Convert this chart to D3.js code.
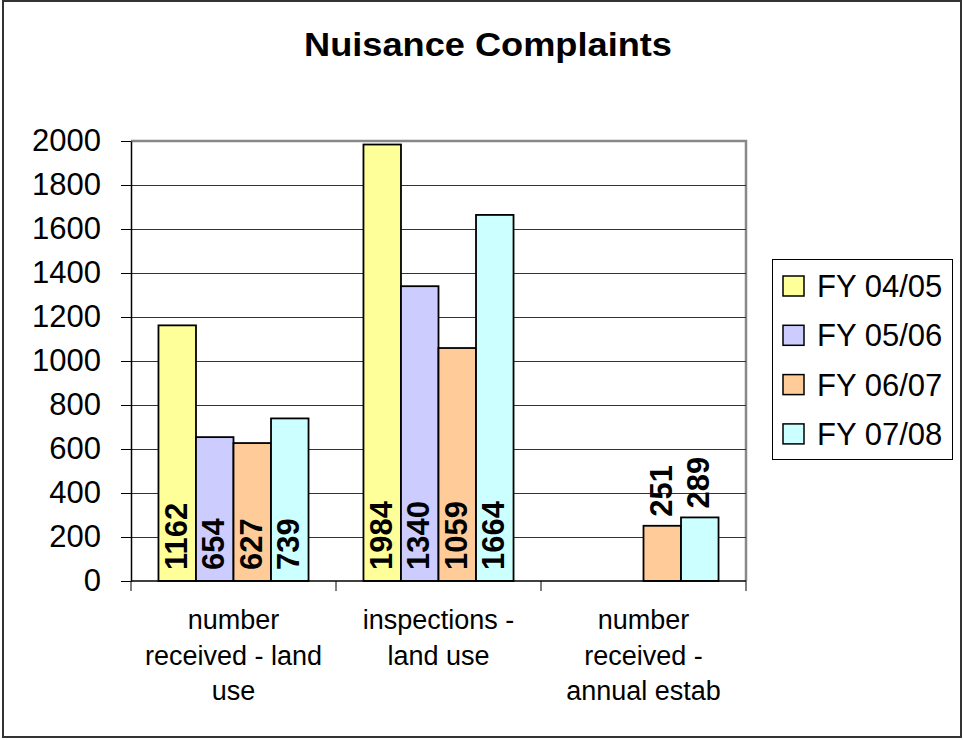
<!DOCTYPE html>
<html>
<head>
<meta charset="utf-8">
<script src="https://cdn.jsdelivr.net/npm/d3@7"></script>
<style>
  body { margin: 0; background: #fff; }
  text { font-family: Arial, "Liberation Sans", sans-serif; fill: #000; }
</style>
</head>
<body>
<script>
// chart data
var categories = ["number received - land use", "inspections - land use", "number received - annual estab"];
var categoryLines = [["number", "received - land", "use"], ["inspections -", "land use"], ["number", "received -", "annual estab"]];
var seriesNames = ["FY 04/05", "FY 05/06", "FY 06/07", "FY 07/08"];
var fy0405 = [1162, 1984, null];
var fy0506 = [654, 1340, null];
var fy0607 = [627, 1059, 251];
var fy0708 = [739, 1664, 289];
var yTicks = [0, 200, 400, 600, 800, 1000, 1200, 1400, 1600, 1800, 2000];
var colors = ["#FFFF99", "#CCCCFF", "#FFCC99", "#CCFFFF"];

var seriesValues = [fy0405, fy0506, fy0607, fy0708];

var W = 963, H = 740;
var plot = { left: 131, right: 746, top: 141, bottom: 581 };

var svg = d3.select("body").append("svg")
    .attr("width", W)
    .attr("height", H);

// outer border
svg.append("rect")
    .attr("x", 3).attr("y", 1)
    .attr("width", 958).attr("height", 736)
    .attr("fill", "#fff")
    .attr("stroke", "#333")
    .attr("stroke-width", 2);

// title
svg.append("text")
    .attr("x", 488)
    .attr("y", 56)
    .attr("text-anchor", "middle")
    .attr("font-size", 33)
    .attr("font-weight", "bold")
    .attr("textLength", 368)
    .attr("lengthAdjust", "spacingAndGlyphs")
    .text("Nuisance Complaints");

// scales
var yScale = d3.scaleLinear()
    .domain([0, 2000])
    .range([plot.bottom, plot.top]);

var xScale = d3.scaleBand()
    .domain(categories)
    .range([plot.left, plot.right])
    .paddingInner(0.268)
    .paddingOuter(0.134);

var xSub = d3.scaleBand()
    .domain(seriesNames)
    .range([0, xScale.bandwidth()]);

// plot area border (top & right in gray)
svg.append("path")
    .attr("d", "M" + plot.left + "," + plot.top + "H" + plot.right + "V" + plot.bottom)
    .attr("fill", "none")
    .attr("stroke", "#888")
    .attr("stroke-width", 2.5);

// gridlines
svg.append("g")
    .selectAll("line")
    .data(yTicks.filter(function (d) { return d > 0 && d < 2000; }))
    .enter().append("line")
    .attr("x1", plot.left)
    .attr("x2", plot.right)
    .attr("y1", function (d) { return Math.round(yScale(d)) + 0.5; })
    .attr("y2", function (d) { return Math.round(yScale(d)) + 0.5; })
    .attr("stroke", "#333")
    .attr("stroke-width", 1);

// bars
var rows = [];
categories.forEach(function (c, i) {
    seriesNames.forEach(function (s, j) {
        if (seriesValues[j][i] != null) rows.push({ cat: c, series: s, idx: j, value: seriesValues[j][i] });
    });
});

svg.append("g")
    .selectAll("rect")
    .data(rows)
    .enter().append("rect")
    .attr("x", function (d) { return xScale(d.cat) + xSub(d.series); })
    .attr("y", function (d) { return yScale(d.value); })
    .attr("width", xSub.bandwidth())
    .attr("height", function (d) { return yScale(0) - yScale(d.value); })
    .attr("fill", function (d) { return colors[d.idx]; })
    .attr("stroke", "#000")
    .attr("stroke-width", 1.8);

// data labels, rotated; inside base when the bar is tall enough, else above
svg.append("g")
    .selectAll("text")
    .data(rows)
    .enter().append("text")
    .attr("transform", function (d) {
        var cx = xScale(d.cat) + xSub(d.series) + xSub.bandwidth() / 2;
        var h = yScale(0) - yScale(d.value);
        var y = h > 80 ? yScale(0) - 11 : yScale(d.value) - 9;
        return "translate(" + cx + "," + y + ") rotate(-90)";
    })
    .attr("dy", "0.3em")
    .attr("font-size", 31)
    .attr("font-weight", "bold")
    .text(function (d) { return d.value; });

// y axis
var yAxis = svg.append("g")
    .attr("transform", "translate(" + plot.left + ",0)")
    .call(d3.axisLeft(yScale).tickValues(yTicks).tickFormat(d3.format("d"))
        .tickSize(10).tickPadding(20).tickSizeOuter(0));
yAxis.select(".domain").attr("stroke", "#000").attr("stroke-width", 1.5);
yAxis.selectAll(".tick line").attr("stroke", "#000");
yAxis.selectAll(".tick text")
    .attr("font-size", 31)
    .attr("font-family", "Arial, 'Liberation Sans', sans-serif");

// x axis line and category separators
svg.append("line")
    .attr("x1", plot.left).attr("x2", plot.right)
    .attr("y1", plot.bottom).attr("y2", plot.bottom)
    .attr("stroke", "#000").attr("stroke-width", 1.5);

svg.append("g")
    .selectAll("line")
    .data(d3.range(categories.length + 1))
    .enter().append("line")
    .attr("x1", function (i) { return plot.left + xScale.step() * i; })
    .attr("x2", function (i) { return plot.left + xScale.step() * i; })
    .attr("y1", plot.bottom)
    .attr("y2", plot.bottom + 10)
    .attr("stroke", "#000");

// category labels
svg.append("g")
    .selectAll("text")
    .data(categories)
    .enter().append("text")
    .attr("x", function (c) { return xScale(c) + xScale.bandwidth() / 2; })
    .attr("y", 629)
    .attr("text-anchor", "middle")
    .attr("font-size", 27)
    .each(function (c, i) {
        var t = d3.select(this);
        categoryLines[i].forEach(function (line, k) {
            t.append("tspan")
                .attr("x", xScale(c) + xScale.bandwidth() / 2)
                .attr("dy", k === 0 ? 0 : 35.5)
                .text(line);
        });
    });

// legend
var legend = svg.append("g");
legend.append("rect")
    .attr("x", 772.5).attr("y", 259.5)
    .attr("width", 180).attr("height", 200)
    .attr("fill", "#fff")
    .attr("stroke", "#000")
    .attr("stroke-width", 1);

var item = legend.selectAll("g")
    .data(seriesNames)
    .enter().append("g")
    .attr("transform", function (d, i) { return "translate(0," + (i * 49.3) + ")"; });

item.append("rect")
    .attr("x", 783).attr("y", 276)
    .attr("width", 21).attr("height", 20)
    .attr("fill", function (d, i) { return colors[i]; })
    .attr("stroke", "#000")
    .attr("stroke-width", 1.5);

item.append("text")
    .attr("x", 817)
    .attr("y", 297)
    .attr("font-size", 31)
    .text(function (d) { return d; });
</script>
</body>
</html>
